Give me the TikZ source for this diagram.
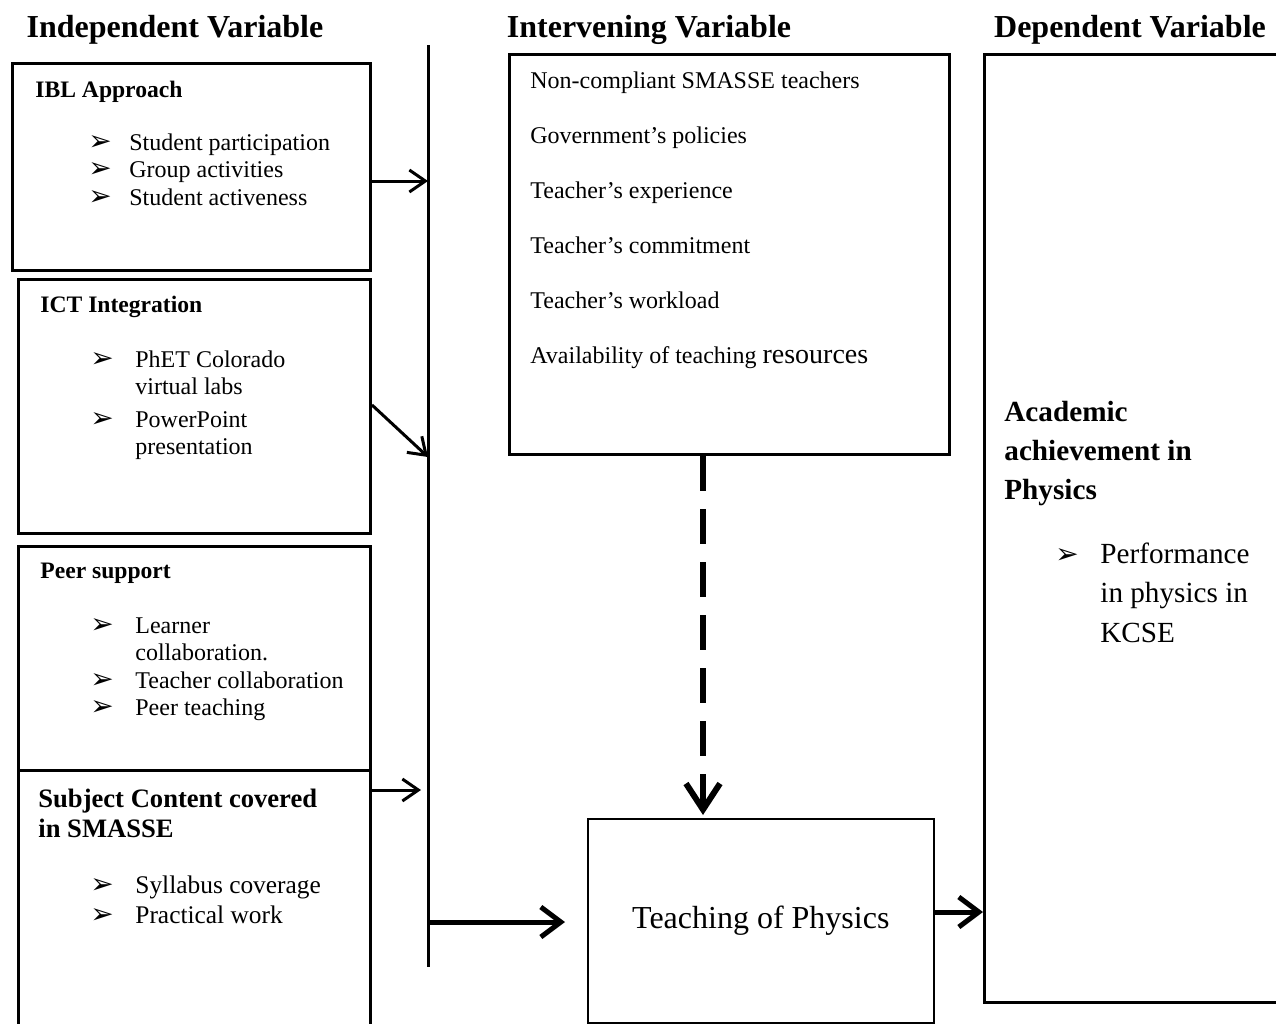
\documentclass[tikz,border=0pt]{standalone}
\usepackage{fontspec}
\setmainfont{Liberation Serif}
\newfontfamily\symfont{DejaVu Sans}
\usetikzlibrary{arrows.meta, positioning, calc}

\newcommand{\bul}{{\symfont\fontsize{14}{10}\selectfont ➢}}
\newcommand{\lines}[1]{\begin{tabular}[t]{@{}l@{}}#1\end{tabular}}
\newcommand{\blist}[2]{\begin{tabular}[t]{@{}p{#1}@{}l@{}}#2\end{tabular}}

\begin{document}
\begin{tikzpicture}[x=0.5pt, y=-0.5pt,
    box/.style={draw, line width=1.5pt, anchor=north west, inner sep=0pt},
    hdr/.style={font=\fontsize{16}{19}\selectfont\bfseries, inner sep=0pt, anchor=base},
    ttl/.style={font=\fontsize{11.8}{15}\selectfont\bfseries, inner sep=0pt, anchor=base west},
    itm/.style={font=\fontsize{12}{13.75}\selectfont, inner sep=0pt, anchor=base west},
    thinarr/.style={line width=1.5pt, -{Straight Barb[length=8pt,width=11pt]}},
    thickarr/.style={line width=2.5pt, -{Straight Barb[length=10pt,width=15pt]}}]
    \useasboundingbox (0,0) rectangle (1276,1024);

    % column headings
    \node[hdr] (hiv) at (175,37) {Independent Variable};
    \node[hdr] (hmv) at (649,37) {Intervening Variable};
    \node[hdr] (hdv) at (1130,37) {Dependent Variable};

    % independent variables
    \node[box, minimum width=179pt, minimum height=103.5pt] (ibl) at (11,62) {};
    \node[box, minimum width=176pt, minimum height=127pt] (ict) at (17,278) {};
    \node[box, minimum width=176pt, minimum height=112pt] (peer) at (17,545) {};
    \node[box, minimum width=176pt, minimum height=136pt] (subj) at (17,769) {};

    \node[ttl] (iblt) at (35,97) {IBL Approach};
    \node[itm] (ibll) at (88,150) {\blist{20.5pt}{\bul & Student participation\\
        \bul & Group activities\\ \bul & Student activeness}};
    \node[ttl] (ictt) at (40,312) {ICT Integration};
    \node[itm] (ictl) at (90,367) {\blist{22.5pt}{\bul & PhET Colorado\\
        & virtual labs\\[2.5pt] \bul & PowerPoint\\ & presentation}};
    \node[ttl] (peert) at (40,578) {Peer support};
    \node[itm] (peerl) at (90,633) {\blist{22.5pt}{\bul & Learner\\
        & collaboration.\\ \bul & Teacher collaboration\\ \bul & Peer teaching}};
    \node[ttl, font=\fontsize{13.3}{15}\selectfont\bfseries] (subjt) at (38,807)
        {\lines{Subject Content covered\\ in SMASSE}};
    \node[itm, font=\fontsize{12.7}{15}\selectfont] (subjl) at (90,893)
        {\blist{22.5pt}{\bul & Syllabus coverage\\ \bul & Practical work}};

    % intervening variables
    \node[box, minimum width=220pt, minimum height=200pt] (interv) at (508,53) {};
    \node[itm, font=\fontsize{12}{27.5}\selectfont] (intl) at (530,88)
        {\lines{Non-compliant SMASSE teachers\\ Government’s policies\\
        Teacher’s experience\\ Teacher’s commitment\\ Teacher’s workload\\
        Availability of teaching {\fontsize{14}{27.5}\selectfont resources}}};

    % teaching and dependent variable
    \node[draw, line width=0.8pt, anchor=north west, minimum width=173pt, minimum height=102pt,
        font=\fontsize{16}{19}\selectfont] (teach) at (587,818) {Teaching of Physics};
    \node[box, minimum width=147pt, minimum height=474pt] (dep) at (983,53) {};
    \node[ttl, font=\fontsize{14.6}{19.5}\selectfont\bfseries] (dept) at (1004,421)
        {\lines{Academic\\ achievement in\\ Physics}};
    \node[itm, font=\fontsize{14.6}{19.75}\selectfont] (depl) at (1055,563)
        {\blist{22.5pt}{\bul & Performance\\ & in physics in\\ & KCSE}};

    % connectors
    \coordinate (vtop) at (428,45);
    \coordinate (vbot) at (428,967);
    \draw[line width=1.5pt] (vtop) -- (vbot);
    \draw[thinarr] (ibl.east |- 0,181) -- (vtop |- 0,181);
    \draw[thinarr] (ict.east |- 0,405) -- (vtop |- 0,457);
    \draw[thinarr] (subj.east |- 0,790) -- ++(49,0);
    \draw[thickarr, shorten >=11pt] (vtop |- 0,922) -- (teach.west |- 0,922);
    \draw[thickarr] (teach.east |- 0,912) -- (dep.west |- 0,912);
    \draw[line width=3pt, dash pattern=on 17.5pt off 9pt,
        -{Straight Barb[length=13pt,width=17pt]}, shorten >=1.5pt]
        (interv.south -| 703,0) -- (teach.north -| 703,0);
\end{tikzpicture}
\end{document}
